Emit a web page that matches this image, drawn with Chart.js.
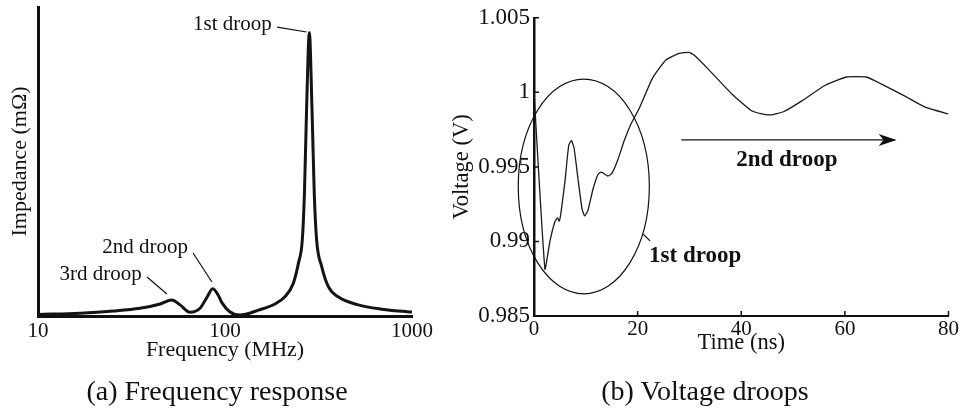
<!DOCTYPE html>
<html>
<head>
<meta charset="utf-8">
<script src="https://cdn.jsdelivr.net/npm/chart.js@4.4.0/dist/chart.umd.min.js"></script>
<style>
    html, body { margin: 0; padding: 0; background: #fff; }
    body { width: 960px; height: 411px; position: relative; overflow: hidden; }
    .panel { position: absolute; top: 0; height: 411px; }
    #leftPanel { left: 0; width: 445px; }
    #rightPanel { left: 445px; width: 515px; }
    .caption {
        position: absolute; top: 377px; width: 300px; text-align: center;
        font-family: 'Liberation Serif', serif; font-size: 28px; line-height: 28px; color: #111;
    }
</style>
</head>
<body>
<div class="panel" id="leftPanel"><canvas id="impedanceChart" width="445" height="411"></canvas></div>
<div class="panel" id="rightPanel"><canvas id="voltageChart" width="515" height="411"></canvas></div>
<div class="caption" style="left:67px">(a) Frequency response</div>
<div class="caption" style="left:555px">(b) Voltage droops</div>
<script>
// (a) impedance vs frequency (no y units shown)
const freqMHz = [10, 16.8, 25.3, 35.1, 45, 51.9, 57.5, 65, 73.5, 80, 86, 91.9, 96, 106, 120, 151, 185,
    209, 232, 247, 259, 266, 273, 282.5, 292, 300, 309, 329, 357, 403, 516, 689, 937, 1000];
const impedance = [0.5, 0.9, 1.6, 2.5, 3.9, 5.2, 3.6, 1.2, 2.5, 6.0, 8.8, 6.8, 4.4, 1.4, 0.3, 1.9, 3.9,
    6.2, 10.6, 17.1, 24.6, 40, 66.7, 91.7, 66.7, 40, 24.6, 16.0, 9.5, 6.2, 3.6, 2.2, 1.4, 1.3];
const freqTicks = [10, 100, 1000];

// (b) supply voltage vs time
const timeNs = [0, 2.11, 3.07, 4.03, 4.54, 4.86, 5.18, 5.95, 6.71, 7.23, 7.74, 8.5, 9.27, 9.78, 10.42, 11.38,
    12.34, 12.98, 14.26, 15.03, 16.18, 17.46, 18.74, 20.34, 22.9, 25.45, 28.0, 29.93, 30.89, 33.76, 38.24,
    41.77, 44.0, 45.6, 48.15, 51.7, 56.15, 60.3, 64.13, 67.0, 71.5, 75.34, 80];
const voltage = [1.0, 0.98814, 0.99, 0.99132, 0.99158, 0.99136, 0.99186, 0.99395, 0.99647, 0.99676, 0.99625,
    0.99417, 0.99219, 0.99171, 0.99209, 0.9935, 0.99449, 0.99465, 0.99439, 0.99456, 0.99548, 0.9968, 0.99789,
    0.99895, 1.00097, 1.00217, 1.00261, 1.00268, 1.0025, 1.00151, 0.99987, 0.99882, 0.99855, 0.99849, 0.9987,
    0.99943, 1.00046, 1.00103, 1.00103, 1.00057, 0.99976, 0.99903, 0.99855];
const timeTicks = [0, 20, 40, 60, 80];
const voltTicks = [0.985, 0.99, 0.995, 1, 1.005];

const SERIF = "'Liberation Serif', 'Times New Roman', serif";
const INK = '#111';

// annotations, placed in data units so they follow the scales
const notes = {
    id: 'notes',
    afterDatasetsDraw(chart, args, opts) {
        const { ctx, scales: { x, y } } = chart;
        const px = v => x.getPixelForValue(v);
        const py = v => y.getPixelForValue(v);
        ctx.save();
        ctx.strokeStyle = INK;
        ctx.fillStyle = INK;
        (opts.items || []).forEach(item => {
            if (item.type === 'text') {
                ctx.font = (item.bold ? 'bold 23px ' : '21px ') + SERIF;
                ctx.textAlign = item.align || 'left';
                ctx.textBaseline = 'middle';
                ctx.fillText(item.text, px(item.at[0]), py(item.at[1]));
            } else if (item.type === 'line' || item.type === 'arrow') {
                const x1 = px(item.from[0]), y1 = py(item.from[1]);
                const x2 = px(item.to[0]), y2 = py(item.to[1]);
                ctx.lineWidth = item.width || 1.2;
                ctx.beginPath();
                ctx.moveTo(x1, y1);
                ctx.lineTo(x2, y2);
                ctx.stroke();
                if (item.type === 'arrow') {
                    ctx.beginPath();
                    ctx.moveTo(x2 + 2, y2);
                    ctx.lineTo(x2 - 16, y2 - 6);
                    ctx.lineTo(x2 - 11, y2);
                    ctx.lineTo(x2 - 16, y2 + 6);
                    ctx.closePath();
                    ctx.fill();
                }
            } else if (item.type === 'ellipse') {
                const cx = px(item.center[0]), cy = py(item.center[1]);
                const rx = Math.abs(px(item.center[0] + item.radius[0]) - cx);
                const ry = Math.abs(py(item.center[1] + item.radius[1]) - cy);
                ctx.lineWidth = 1.2;
                ctx.beginPath();
                ctx.ellipse(cx, cy, rx, ry, 0, 0, Math.PI * 2);
                ctx.stroke();
            }
        });
        ctx.restore();
    }
};

// small tick marks pointing into the plot
const innerTicks = {
    id: 'innerTicks',
    afterDraw(chart, args, opts) {
        if (!opts.x && !opts.y) return;
        const { ctx, chartArea, scales: { x, y } } = chart;
        ctx.save();
        ctx.strokeStyle = INK;
        ctx.lineWidth = 1.5;
        ctx.beginPath();
        (opts.y || []).forEach(v => {
            const p = y.getPixelForValue(v);
            ctx.moveTo(chartArea.left, p);
            ctx.lineTo(chartArea.left + 5, p);
        });
        (opts.x || []).forEach(v => {
            const p = x.getPixelForValue(v);
            ctx.moveTo(p, chartArea.bottom);
            ctx.lineTo(p, chartArea.bottom - 5);
        });
        ctx.stroke();
        ctx.restore();
    }
};

function fixedTicks(values) {
    return scale => { scale.ticks = values.map(v => ({ value: v })); };
}

function createImpedanceChart() {
    const points = freqMHz.map((f, i) => ({ x: f, y: impedance[i] }));
    new Chart(document.getElementById('impedanceChart'), {
        type: 'line',
        data: {
            datasets: [{
                data: points,
                borderColor: '#141414',
                borderWidth: 3,
                pointRadius: 0,
                cubicInterpolationMode: 'monotone',
                fill: false
            }]
        },
        options: {
            responsive: false,
            animation: false,
            layout: { padding: { left: 0, right: 33, top: 7, bottom: 48 } },
            plugins: {
                legend: { display: false },
                tooltip: { enabled: false },
                notes: {
                    items: [
                        { type: 'text', text: '1st droop', at: [178, 94.2], align: 'right' },
                        { type: 'line', from: [190, 93.5], to: [273, 91.9] },
                        { type: 'text', text: '2nd droop', at: [63.4, 22.3], align: 'right' },
                        { type: 'line', from: [67.5, 20.4], to: [85.1, 11.0] },
                        { type: 'text', text: '3rd droop', at: [35.9, 13.3], align: 'right' },
                        { type: 'line', from: [38.3, 12.6], to: [48.9, 7.1] }
                    ]
                }
            },
            scales: {
                x: {
                    type: 'logarithmic',
                    min: 10,
                    max: 1000,
                    afterBuildTicks: fixedTicks(freqTicks),
                    afterFit: scale => { scale.height = 47; },
                    grid: { display: false, drawTicks: false },
                    border: { display: true, color: INK, width: 3 },
                    ticks: {
                        color: INK, padding: 3, maxRotation: 0,
                        font: { family: SERIF, size: 21 },
                        callback: v => String(v)
                    },
                    title: {
                        display: true, text: 'Frequency (MHz)', color: INK,
                        font: { family: SERIF, size: 22 }, padding: { top: 0, bottom: 0 }
                    }
                },
                y: {
                    min: 0,
                    max: 100,
                    afterFit: scale => { scale.width = 38; },
                    grid: { display: false, drawTicks: false },
                    border: { display: true, color: INK, width: 3 },
                    ticks: { display: false },
                    title: {
                        display: true, text: 'Impedance (mΩ)', color: INK,
                        font: { family: SERIF, size: 22 }, padding: { top: 7, bottom: 0 }
                    }
                }
            }
        },
        plugins: [notes]
    });
}

function createVoltageChart() {
    const points = timeNs.map((t, i) => ({ x: t, y: voltage[i] }));
    new Chart(document.getElementById('voltageChart'), {
        type: 'line',
        data: {
            datasets: [{
                data: points,
                borderColor: '#1a1a1a',
                borderWidth: 1.3,
                pointRadius: 0,
                tension: 0.15,
                fill: false
            }]
        },
        options: {
            responsive: false,
            animation: false,
            layout: { padding: { left: 0, right: 9, top: 12, bottom: 54 } },
            plugins: {
                legend: { display: false },
                tooltip: { enabled: false },
                innerTicks: { x: timeTicks, y: voltTicks },
                notes: {
                    items: [
                        { type: 'ellipse', center: [9.61, 0.99369], radius: [12.65, 0.0072] },
                        { type: 'line', from: [21.1, 0.99048], to: [22.39, 0.99004] },
                        { type: 'text', text: '1st droop', at: [22.2, 0.98902], bold: true },
                        { type: 'arrow', from: [28.44, 0.99681], to: [69.6, 0.99681] },
                        { type: 'text', text: '2nd droop', at: [48.8, 0.99549], align: 'center', bold: true }
                    ]
                }
            },
            scales: {
                x: {
                    type: 'linear',
                    min: 0,
                    max: 80,
                    afterBuildTicks: fixedTicks(timeTicks),
                    afterFit: scale => { scale.height = 41; },
                    grid: { display: false, drawTicks: false },
                    border: { display: true, color: INK, width: 2 },
                    ticks: {
                        color: INK, padding: 1, maxRotation: 0,
                        font: { family: SERIF, size: 21 },
                        callback: v => String(v)
                    },
                    title: {
                        display: true, text: 'Time (ns)', color: INK,
                        font: { family: SERIF, size: 22.5 }, padding: { top: 0, bottom: 0 }
                    }
                },
                y: {
                    min: 0.985,
                    max: 1.005,
                    afterBuildTicks: fixedTicks(voltTicks),
                    afterFit: scale => { scale.width = 89; },
                    grid: { display: false, drawTicks: false },
                    border: { display: true, color: INK, width: 2.5 },
                    ticks: {
                        color: INK, padding: 4,
                        font: { family: SERIF, size: 23 },
                        callback: v => String(Number(v.toFixed(3)))
                    },
                    title: {
                        display: true, text: 'Voltage (V)', color: INK,
                        font: { family: SERIF, size: 22.5 }, padding: { top: 4, bottom: 0 }
                    }
                }
            }
        },
        plugins: [notes, innerTicks]
    });
}

document.addEventListener('DOMContentLoaded', () => {
    createImpedanceChart();
    createVoltageChart();
});
</script>
</body>
</html>
